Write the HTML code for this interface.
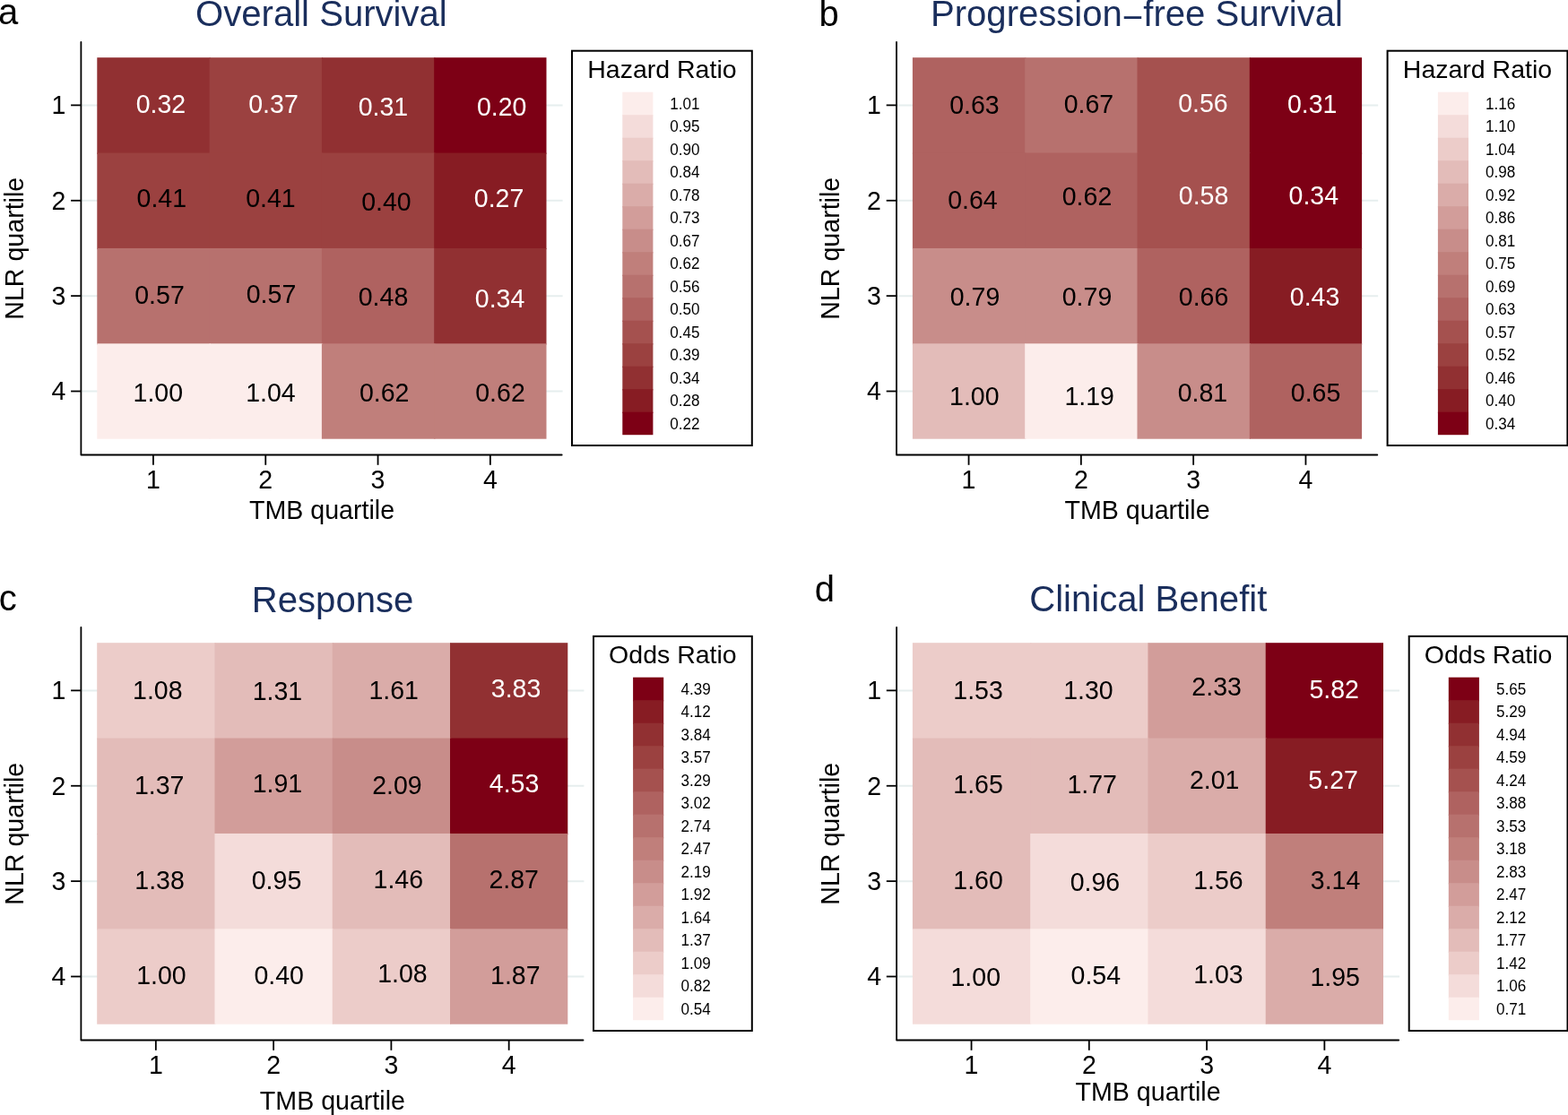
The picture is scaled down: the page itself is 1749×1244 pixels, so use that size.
<!DOCTYPE html>
<html><head><meta charset="utf-8"><title>Heatmaps</title><style>
html,body{margin:0;padding:0;background:#fff;}
svg{display:block;}
text{font-family:'Liberation Sans',Arial,Helvetica,sans-serif;}
.cl{font-size:28.5px;text-anchor:middle;}
.tl{font-size:28.5px;fill:#000;}
.at{font-size:28.6px;fill:#000;}
.ti{font-size:40.1px;fill:#1a2e5c;}
.pl{font-size:40px;fill:#000;}
.lt{font-size:28.5px;fill:#000;}
.ll{font-size:17.1px;fill:#000;}
.ax{fill:none;stroke:#000;stroke-width:1.8;stroke-linecap:round;stroke-linejoin:round;}
.tk{stroke:#000;stroke-width:1.8;}
.lb{fill:none;stroke:#000;stroke-width:2;}
</style></head>
<body><svg width="1749" height="1244" viewBox="0 0 1749 1244">
<rect width="1749" height="1244" fill="#fff"/>
<line x1="90.4" y1="117.39" x2="627.6" y2="117.39" stroke="#e6eeee" stroke-width="2"/>
<line x1="90.4" y1="223.76" x2="627.6" y2="223.76" stroke="#e6eeee" stroke-width="2"/>
<line x1="90.4" y1="330.14" x2="627.6" y2="330.14" stroke="#e6eeee" stroke-width="2"/>
<line x1="90.4" y1="436.51" x2="627.6" y2="436.51" stroke="#e6eeee" stroke-width="2"/>
<rect x="108.3" y="64.2" width="126.5" height="107.58" fill="#913032"/>
<rect x="233.6" y="64.2" width="126.5" height="107.58" fill="#9b4140"/>
<rect x="358.9" y="64.2" width="126.5" height="107.58" fill="#913032"/>
<rect x="484.2" y="64.2" width="125.3" height="107.58" fill="#7d0015"/>
<rect x="108.3" y="170.57" width="126.5" height="107.58" fill="#9b4140"/>
<rect x="233.6" y="170.57" width="126.5" height="107.58" fill="#9b4140"/>
<rect x="358.9" y="170.57" width="126.5" height="107.58" fill="#9b4140"/>
<rect x="484.2" y="170.57" width="125.3" height="107.58" fill="#871c23"/>
<rect x="108.3" y="276.95" width="126.5" height="107.58" fill="#b7716e"/>
<rect x="233.6" y="276.95" width="126.5" height="107.58" fill="#b7716e"/>
<rect x="358.9" y="276.95" width="126.5" height="107.58" fill="#af6260"/>
<rect x="484.2" y="276.95" width="125.3" height="107.58" fill="#913032"/>
<rect x="108.3" y="383.32" width="126.5" height="106.38" fill="#fcedeb"/>
<rect x="233.6" y="383.32" width="126.5" height="106.38" fill="#fcedeb"/>
<rect x="358.9" y="383.32" width="126.5" height="106.38" fill="#c07f7b"/>
<rect x="484.2" y="383.32" width="125.3" height="106.38" fill="#c07f7b"/>
<text transform="translate(179.45,125.63) scale(1,1.03)" class="cl" fill="#fff">0.32</text>
<text transform="translate(305,125.63) scale(1,1.03)" class="cl" fill="#fff">0.37</text>
<text transform="translate(427.45,128.81) scale(1,1.03)" class="cl" fill="#fff">0.31</text>
<text transform="translate(559.63,128.81) scale(1,1.03)" class="cl" fill="#fff">0.20</text>
<text transform="translate(180.27,231.07) scale(1,1.03)" class="cl" fill="#000">0.41</text>
<text transform="translate(301.86,231.07) scale(1,1.03)" class="cl" fill="#000">0.41</text>
<text transform="translate(430.91,234.87) scale(1,1.03)" class="cl" fill="#000">0.40</text>
<text transform="translate(556.55,230.87) scale(1,1.03)" class="cl" fill="#fff">0.27</text>
<text transform="translate(178,339.23) scale(1,1.03)" class="cl" fill="#000">0.57</text>
<text transform="translate(302.5,337.69) scale(1,1.03)" class="cl" fill="#000">0.57</text>
<text transform="translate(427.5,340.57) scale(1,1.03)" class="cl" fill="#000">0.48</text>
<text transform="translate(557.55,342.95) scale(1,1.03)" class="cl" fill="#fff">0.34</text>
<text transform="translate(176.33,447.77) scale(1,1.03)" class="cl" fill="#000">1.00</text>
<text transform="translate(301.97,447.77) scale(1,1.03)" class="cl" fill="#000">1.04</text>
<text transform="translate(428.64,448.41) scale(1,1.03)" class="cl" fill="#000">0.62</text>
<text transform="translate(558,448.41) scale(1,1.03)" class="cl" fill="#000">0.62</text>
<path d="M90.4 47V507.5H626.7" class="ax"/>
<line x1="79.1" y1="117.39" x2="90.4" y2="117.39" class="tk"/>
<text transform="translate(73.3,127.19) scale(1,1.03)" class="tl" text-anchor="end">1</text>
<line x1="79.1" y1="223.76" x2="90.4" y2="223.76" class="tk"/>
<text transform="translate(73.3,233.56) scale(1,1.03)" class="tl" text-anchor="end">2</text>
<line x1="79.1" y1="330.14" x2="90.4" y2="330.14" class="tk"/>
<text transform="translate(73.3,339.94) scale(1,1.03)" class="tl" text-anchor="end">3</text>
<line x1="79.1" y1="436.51" x2="90.4" y2="436.51" class="tk"/>
<text transform="translate(73.3,446.31) scale(1,1.03)" class="tl" text-anchor="end">4</text>
<line x1="170.95" y1="507.5" x2="170.95" y2="518.8" class="tk"/>
<text transform="translate(170.95,544.8) scale(1,1.03)" class="tl" text-anchor="middle">1</text>
<line x1="296.25" y1="507.5" x2="296.25" y2="518.8" class="tk"/>
<text transform="translate(296.25,544.8) scale(1,1.03)" class="tl" text-anchor="middle">2</text>
<line x1="421.55" y1="507.5" x2="421.55" y2="518.8" class="tk"/>
<text transform="translate(421.55,544.8) scale(1,1.03)" class="tl" text-anchor="middle">3</text>
<line x1="546.85" y1="507.5" x2="546.85" y2="518.8" class="tk"/>
<text transform="translate(546.85,544.8) scale(1,1.03)" class="tl" text-anchor="middle">4</text>
<text x="359" y="579.2" class="at" text-anchor="middle">TMB quartile</text>
<text transform="translate(26,277.25) rotate(-90)" class="at" text-anchor="middle">NLR quartile</text>
<text x="358.4" y="29.2" class="ti" text-anchor="middle">Overall Survival</text>
<text x="-2.1" y="27" class="pl">a</text>
<rect x="638" y="56.7" width="200.8" height="440.3" class="lb"/>
<text x="738.4" y="86.8" class="lt" text-anchor="middle">Hazard Ratio</text>
<rect x="694.3" y="102.7" width="34.1" height="26.7" fill="#fcedeb"/>
<text transform="translate(747.3,121.55) scale(1,1.03)" class="ll">1.01</text>
<rect x="694.3" y="128.2" width="34.1" height="26.7" fill="#f4dcda"/>
<text transform="translate(747.3,147.05) scale(1,1.03)" class="ll">0.95</text>
<rect x="694.3" y="153.7" width="34.1" height="26.7" fill="#ecccc9"/>
<text transform="translate(747.3,172.55) scale(1,1.03)" class="ll">0.90</text>
<rect x="694.3" y="179.2" width="34.1" height="26.7" fill="#e3bcb9"/>
<text transform="translate(747.3,198.05) scale(1,1.03)" class="ll">0.84</text>
<rect x="694.3" y="204.7" width="34.1" height="26.7" fill="#daaca9"/>
<text transform="translate(747.3,223.55) scale(1,1.03)" class="ll">0.78</text>
<rect x="694.3" y="230.2" width="34.1" height="26.7" fill="#d29d9a"/>
<text transform="translate(747.3,249.05) scale(1,1.03)" class="ll">0.73</text>
<rect x="694.3" y="255.7" width="34.1" height="26.7" fill="#c88d8a"/>
<text transform="translate(747.3,274.55) scale(1,1.03)" class="ll">0.67</text>
<rect x="694.3" y="281.2" width="34.1" height="26.7" fill="#c07f7b"/>
<text transform="translate(747.3,300.05) scale(1,1.03)" class="ll">0.62</text>
<rect x="694.3" y="306.7" width="34.1" height="26.7" fill="#b7716e"/>
<text transform="translate(747.3,325.55) scale(1,1.03)" class="ll">0.56</text>
<rect x="694.3" y="332.2" width="34.1" height="26.7" fill="#af6260"/>
<text transform="translate(747.3,351.05) scale(1,1.03)" class="ll">0.50</text>
<rect x="694.3" y="357.7" width="34.1" height="26.7" fill="#a5514f"/>
<text transform="translate(747.3,376.55) scale(1,1.03)" class="ll">0.45</text>
<rect x="694.3" y="383.2" width="34.1" height="26.7" fill="#9b4140"/>
<text transform="translate(747.3,402.05) scale(1,1.03)" class="ll">0.39</text>
<rect x="694.3" y="408.7" width="34.1" height="26.7" fill="#913032"/>
<text transform="translate(747.3,427.55) scale(1,1.03)" class="ll">0.34</text>
<rect x="694.3" y="434.2" width="34.1" height="26.7" fill="#871c23"/>
<text transform="translate(747.3,453.05) scale(1,1.03)" class="ll">0.28</text>
<rect x="694.3" y="459.7" width="34.1" height="25.5" fill="#7d0015"/>
<text transform="translate(747.3,478.55) scale(1,1.03)" class="ll">0.22</text>
<line x1="1000" y1="117.39" x2="1537.2" y2="117.39" stroke="#e6eeee" stroke-width="2"/>
<line x1="1000" y1="223.76" x2="1537.2" y2="223.76" stroke="#e6eeee" stroke-width="2"/>
<line x1="1000" y1="330.14" x2="1537.2" y2="330.14" stroke="#e6eeee" stroke-width="2"/>
<line x1="1000" y1="436.51" x2="1537.2" y2="436.51" stroke="#e6eeee" stroke-width="2"/>
<rect x="1017.9" y="64.2" width="126.5" height="107.58" fill="#af6260"/>
<rect x="1143.2" y="64.2" width="126.5" height="107.58" fill="#b7716e"/>
<rect x="1268.5" y="64.2" width="126.5" height="107.58" fill="#a5514f"/>
<rect x="1393.8" y="64.2" width="125.3" height="107.58" fill="#7d0015"/>
<rect x="1017.9" y="170.57" width="126.5" height="107.58" fill="#af6260"/>
<rect x="1143.2" y="170.57" width="126.5" height="107.58" fill="#af6260"/>
<rect x="1268.5" y="170.57" width="126.5" height="107.58" fill="#a5514f"/>
<rect x="1393.8" y="170.57" width="125.3" height="107.58" fill="#7d0015"/>
<rect x="1017.9" y="276.95" width="126.5" height="107.58" fill="#c88d8a"/>
<rect x="1143.2" y="276.95" width="126.5" height="107.58" fill="#c88d8a"/>
<rect x="1268.5" y="276.95" width="126.5" height="107.58" fill="#af6260"/>
<rect x="1393.8" y="276.95" width="125.3" height="107.58" fill="#871c23"/>
<rect x="1017.9" y="383.32" width="126.5" height="106.38" fill="#e3bcb9"/>
<rect x="1143.2" y="383.32" width="126.5" height="106.38" fill="#fcedeb"/>
<rect x="1268.5" y="383.32" width="126.5" height="106.38" fill="#c88d8a"/>
<rect x="1393.8" y="383.32" width="125.3" height="106.38" fill="#af6260"/>
<text transform="translate(1086.86,126.87) scale(1,1.03)" class="cl" fill="#000">0.63</text>
<text transform="translate(1214.41,126.23) scale(1,1.03)" class="cl" fill="#000">0.67</text>
<text transform="translate(1341.86,124.69) scale(1,1.03)" class="cl" fill="#fff">0.56</text>
<text transform="translate(1463.73,126.23) scale(1,1.03)" class="cl" fill="#fff">0.31</text>
<text transform="translate(1084.92,232.99) scale(1,1.03)" class="cl" fill="#000">0.64</text>
<text transform="translate(1212.5,229.23) scale(1,1.03)" class="cl" fill="#000">0.62</text>
<text transform="translate(1342.55,227.55) scale(1,1.03)" class="cl" fill="#fff">0.58</text>
<text transform="translate(1465.27,227.55) scale(1,1.03)" class="cl" fill="#fff">0.34</text>
<text transform="translate(1087.5,341.41) scale(1,1.03)" class="cl" fill="#000">0.79</text>
<text transform="translate(1212.5,341.41) scale(1,1.03)" class="cl" fill="#000">0.79</text>
<text transform="translate(1342.55,341.41) scale(1,1.03)" class="cl" fill="#000">0.66</text>
<text transform="translate(1466.55,340.77) scale(1,1.03)" class="cl" fill="#fff">0.43</text>
<text transform="translate(1086.83,451.53) scale(1,1.03)" class="cl" fill="#000">1.00</text>
<text transform="translate(1215.14,452.37) scale(1,1.03)" class="cl" fill="#000">1.19</text>
<text transform="translate(1341.41,447.77) scale(1,1.03)" class="cl" fill="#000">0.81</text>
<text transform="translate(1467.55,447.77) scale(1,1.03)" class="cl" fill="#000">0.65</text>
<path d="M1000 47V507.5H1536.3" class="ax"/>
<line x1="988.7" y1="117.39" x2="1000" y2="117.39" class="tk"/>
<text transform="translate(982.9,127.19) scale(1,1.03)" class="tl" text-anchor="end">1</text>
<line x1="988.7" y1="223.76" x2="1000" y2="223.76" class="tk"/>
<text transform="translate(982.9,233.56) scale(1,1.03)" class="tl" text-anchor="end">2</text>
<line x1="988.7" y1="330.14" x2="1000" y2="330.14" class="tk"/>
<text transform="translate(982.9,339.94) scale(1,1.03)" class="tl" text-anchor="end">3</text>
<line x1="988.7" y1="436.51" x2="1000" y2="436.51" class="tk"/>
<text transform="translate(982.9,446.31) scale(1,1.03)" class="tl" text-anchor="end">4</text>
<line x1="1080.55" y1="507.5" x2="1080.55" y2="518.8" class="tk"/>
<text transform="translate(1080.55,544.8) scale(1,1.03)" class="tl" text-anchor="middle">1</text>
<line x1="1205.85" y1="507.5" x2="1205.85" y2="518.8" class="tk"/>
<text transform="translate(1205.85,544.8) scale(1,1.03)" class="tl" text-anchor="middle">2</text>
<line x1="1331.15" y1="507.5" x2="1331.15" y2="518.8" class="tk"/>
<text transform="translate(1331.15,544.8) scale(1,1.03)" class="tl" text-anchor="middle">3</text>
<line x1="1456.45" y1="507.5" x2="1456.45" y2="518.8" class="tk"/>
<text transform="translate(1456.45,544.8) scale(1,1.03)" class="tl" text-anchor="middle">4</text>
<text x="1268.6" y="579.2" class="at" text-anchor="middle">TMB quartile</text>
<text transform="translate(935.6,277.25) rotate(-90)" class="at" text-anchor="middle">NLR quartile</text>
<text x="1268" y="29.2" class="ti" text-anchor="middle">Progression<tspan dy="3.7">−</tspan><tspan dy="-3.7">free Survival</tspan></text>
<text x="913.6" y="28.6" class="pl">b</text>
<rect x="1547.6" y="56.7" width="200.8" height="440.3" class="lb"/>
<text x="1648" y="86.8" class="lt" text-anchor="middle">Hazard Ratio</text>
<rect x="1603.9" y="102.7" width="34.1" height="26.7" fill="#fcedeb"/>
<text transform="translate(1656.9,121.55) scale(1,1.03)" class="ll">1.16</text>
<rect x="1603.9" y="128.2" width="34.1" height="26.7" fill="#f4dcda"/>
<text transform="translate(1656.9,147.05) scale(1,1.03)" class="ll">1.10</text>
<rect x="1603.9" y="153.7" width="34.1" height="26.7" fill="#ecccc9"/>
<text transform="translate(1656.9,172.55) scale(1,1.03)" class="ll">1.04</text>
<rect x="1603.9" y="179.2" width="34.1" height="26.7" fill="#e3bcb9"/>
<text transform="translate(1656.9,198.05) scale(1,1.03)" class="ll">0.98</text>
<rect x="1603.9" y="204.7" width="34.1" height="26.7" fill="#daaca9"/>
<text transform="translate(1656.9,223.55) scale(1,1.03)" class="ll">0.92</text>
<rect x="1603.9" y="230.2" width="34.1" height="26.7" fill="#d29d9a"/>
<text transform="translate(1656.9,249.05) scale(1,1.03)" class="ll">0.86</text>
<rect x="1603.9" y="255.7" width="34.1" height="26.7" fill="#c88d8a"/>
<text transform="translate(1656.9,274.55) scale(1,1.03)" class="ll">0.81</text>
<rect x="1603.9" y="281.2" width="34.1" height="26.7" fill="#c07f7b"/>
<text transform="translate(1656.9,300.05) scale(1,1.03)" class="ll">0.75</text>
<rect x="1603.9" y="306.7" width="34.1" height="26.7" fill="#b7716e"/>
<text transform="translate(1656.9,325.55) scale(1,1.03)" class="ll">0.69</text>
<rect x="1603.9" y="332.2" width="34.1" height="26.7" fill="#af6260"/>
<text transform="translate(1656.9,351.05) scale(1,1.03)" class="ll">0.63</text>
<rect x="1603.9" y="357.7" width="34.1" height="26.7" fill="#a5514f"/>
<text transform="translate(1656.9,376.55) scale(1,1.03)" class="ll">0.57</text>
<rect x="1603.9" y="383.2" width="34.1" height="26.7" fill="#9b4140"/>
<text transform="translate(1656.9,402.05) scale(1,1.03)" class="ll">0.52</text>
<rect x="1603.9" y="408.7" width="34.1" height="26.7" fill="#913032"/>
<text transform="translate(1656.9,427.55) scale(1,1.03)" class="ll">0.46</text>
<rect x="1603.9" y="434.2" width="34.1" height="26.7" fill="#871c23"/>
<text transform="translate(1656.9,453.05) scale(1,1.03)" class="ll">0.40</text>
<rect x="1603.9" y="459.7" width="34.1" height="25.5" fill="#7d0015"/>
<text transform="translate(1656.9,478.55) scale(1,1.03)" class="ll">0.34</text>
<line x1="90.4" y1="770.39" x2="651.4" y2="770.39" stroke="#e6eeee" stroke-width="2"/>
<line x1="90.4" y1="876.76" x2="651.4" y2="876.76" stroke="#e6eeee" stroke-width="2"/>
<line x1="90.4" y1="983.14" x2="651.4" y2="983.14" stroke="#e6eeee" stroke-width="2"/>
<line x1="90.4" y1="1089.51" x2="651.4" y2="1089.51" stroke="#e6eeee" stroke-width="2"/>
<rect x="108.2" y="717.2" width="132.47" height="107.58" fill="#ecccc9"/>
<rect x="239.47" y="717.2" width="132.47" height="107.58" fill="#e3bcb9"/>
<rect x="370.75" y="717.2" width="132.47" height="107.58" fill="#daaca9"/>
<rect x="502.02" y="717.2" width="131.27" height="107.58" fill="#913032"/>
<rect x="108.2" y="823.58" width="132.47" height="107.58" fill="#e3bcb9"/>
<rect x="239.47" y="823.58" width="132.47" height="107.58" fill="#d29d9a"/>
<rect x="370.75" y="823.58" width="132.47" height="107.58" fill="#c88d8a"/>
<rect x="502.02" y="823.58" width="131.27" height="107.58" fill="#7d0015"/>
<rect x="108.2" y="929.95" width="132.47" height="107.58" fill="#e3bcb9"/>
<rect x="239.47" y="929.95" width="132.47" height="107.58" fill="#f4dcda"/>
<rect x="370.75" y="929.95" width="132.47" height="107.58" fill="#e3bcb9"/>
<rect x="502.02" y="929.95" width="131.27" height="107.58" fill="#b7716e"/>
<rect x="108.2" y="1036.33" width="132.47" height="106.38" fill="#ecccc9"/>
<rect x="239.47" y="1036.33" width="132.47" height="106.38" fill="#fcedeb"/>
<rect x="370.75" y="1036.33" width="132.47" height="106.38" fill="#ecccc9"/>
<rect x="502.02" y="1036.33" width="131.27" height="106.38" fill="#d29d9a"/>
<text transform="translate(175.78,779.65) scale(1,1.03)" class="cl" fill="#000">1.08</text>
<text transform="translate(309.46,781.09) scale(1,1.03)" class="cl" fill="#000">1.31</text>
<text transform="translate(439.1,779.61) scale(1,1.03)" class="cl" fill="#000">1.61</text>
<text transform="translate(575.55,777.79) scale(1,1.03)" class="cl" fill="#fff">3.83</text>
<text transform="translate(177.6,886.33) scale(1,1.03)" class="cl" fill="#000">1.37</text>
<text transform="translate(309.46,883.59) scale(1,1.03)" class="cl" fill="#000">1.91</text>
<text transform="translate(442.91,886.43) scale(1,1.03)" class="cl" fill="#000">2.09</text>
<text transform="translate(573.54,883.91) scale(1,1.03)" class="cl" fill="#fff">4.53</text>
<text transform="translate(178.05,991.93) scale(1,1.03)" class="cl" fill="#000">1.38</text>
<text transform="translate(308.5,991.93) scale(1,1.03)" class="cl" fill="#000">0.95</text>
<text transform="translate(444.33,990.59) scale(1,1.03)" class="cl" fill="#000">1.46</text>
<text transform="translate(573.14,990.59) scale(1,1.03)" class="cl" fill="#000">2.87</text>
<text transform="translate(179.96,1097.61) scale(1,1.03)" class="cl" fill="#000">1.00</text>
<text transform="translate(311.18,1097.93) scale(1,1.03)" class="cl" fill="#000">0.40</text>
<text transform="translate(448.87,1095.79) scale(1,1.03)" class="cl" fill="#000">1.08</text>
<text transform="translate(574.83,1097.93) scale(1,1.03)" class="cl" fill="#000">1.87</text>
<path d="M90.4 700V1160.5H650.5" class="ax"/>
<line x1="79.1" y1="770.39" x2="90.4" y2="770.39" class="tk"/>
<text transform="translate(73.3,780.19) scale(1,1.03)" class="tl" text-anchor="end">1</text>
<line x1="79.1" y1="876.76" x2="90.4" y2="876.76" class="tk"/>
<text transform="translate(73.3,886.56) scale(1,1.03)" class="tl" text-anchor="end">2</text>
<line x1="79.1" y1="983.14" x2="90.4" y2="983.14" class="tk"/>
<text transform="translate(73.3,992.94) scale(1,1.03)" class="tl" text-anchor="end">3</text>
<line x1="79.1" y1="1089.51" x2="90.4" y2="1089.51" class="tk"/>
<text transform="translate(73.3,1099.31) scale(1,1.03)" class="tl" text-anchor="end">4</text>
<line x1="173.84" y1="1160.5" x2="173.84" y2="1171.8" class="tk"/>
<text transform="translate(173.84,1197.8) scale(1,1.03)" class="tl" text-anchor="middle">1</text>
<line x1="305.11" y1="1160.5" x2="305.11" y2="1171.8" class="tk"/>
<text transform="translate(305.11,1197.8) scale(1,1.03)" class="tl" text-anchor="middle">2</text>
<line x1="436.39" y1="1160.5" x2="436.39" y2="1171.8" class="tk"/>
<text transform="translate(436.39,1197.8) scale(1,1.03)" class="tl" text-anchor="middle">3</text>
<line x1="567.66" y1="1160.5" x2="567.66" y2="1171.8" class="tk"/>
<text transform="translate(567.66,1197.8) scale(1,1.03)" class="tl" text-anchor="middle">4</text>
<text x="370.9" y="1237.5" class="at" text-anchor="middle">TMB quartile</text>
<text transform="translate(26,930.25) rotate(-90)" class="at" text-anchor="middle">NLR quartile</text>
<text x="371.1" y="682.9" class="ti" text-anchor="middle">Response</text>
<text x="-1.3" y="681.1" class="pl">c</text>
<rect x="662" y="709.9" width="176.8" height="440.1" class="lb"/>
<text x="750.4" y="739.8" class="lt" text-anchor="middle">Odds Ratio</text>
<rect x="706.1" y="755.7" width="34.1" height="26.7" fill="#7d0015"/>
<text transform="translate(759.4,774.55) scale(1,1.03)" class="ll">4.39</text>
<rect x="706.1" y="781.2" width="34.1" height="26.7" fill="#871c23"/>
<text transform="translate(759.4,800.05) scale(1,1.03)" class="ll">4.12</text>
<rect x="706.1" y="806.7" width="34.1" height="26.7" fill="#913032"/>
<text transform="translate(759.4,825.55) scale(1,1.03)" class="ll">3.84</text>
<rect x="706.1" y="832.2" width="34.1" height="26.7" fill="#9b4140"/>
<text transform="translate(759.4,851.05) scale(1,1.03)" class="ll">3.57</text>
<rect x="706.1" y="857.7" width="34.1" height="26.7" fill="#a5514f"/>
<text transform="translate(759.4,876.55) scale(1,1.03)" class="ll">3.29</text>
<rect x="706.1" y="883.2" width="34.1" height="26.7" fill="#af6260"/>
<text transform="translate(759.4,902.05) scale(1,1.03)" class="ll">3.02</text>
<rect x="706.1" y="908.7" width="34.1" height="26.7" fill="#b7716e"/>
<text transform="translate(759.4,927.55) scale(1,1.03)" class="ll">2.74</text>
<rect x="706.1" y="934.2" width="34.1" height="26.7" fill="#c07f7b"/>
<text transform="translate(759.4,953.05) scale(1,1.03)" class="ll">2.47</text>
<rect x="706.1" y="959.7" width="34.1" height="26.7" fill="#c88d8a"/>
<text transform="translate(759.4,978.55) scale(1,1.03)" class="ll">2.19</text>
<rect x="706.1" y="985.2" width="34.1" height="26.7" fill="#d29d9a"/>
<text transform="translate(759.4,1004.05) scale(1,1.03)" class="ll">1.92</text>
<rect x="706.1" y="1010.7" width="34.1" height="26.7" fill="#daaca9"/>
<text transform="translate(759.4,1029.55) scale(1,1.03)" class="ll">1.64</text>
<rect x="706.1" y="1036.2" width="34.1" height="26.7" fill="#e3bcb9"/>
<text transform="translate(759.4,1055.05) scale(1,1.03)" class="ll">1.37</text>
<rect x="706.1" y="1061.7" width="34.1" height="26.7" fill="#ecccc9"/>
<text transform="translate(759.4,1080.55) scale(1,1.03)" class="ll">1.09</text>
<rect x="706.1" y="1087.2" width="34.1" height="26.7" fill="#f4dcda"/>
<text transform="translate(759.4,1106.05) scale(1,1.03)" class="ll">0.82</text>
<rect x="706.1" y="1112.7" width="34.1" height="25.5" fill="#fcedeb"/>
<text transform="translate(759.4,1131.55) scale(1,1.03)" class="ll">0.54</text>
<line x1="1000.1" y1="770.39" x2="1561.1" y2="770.39" stroke="#e6eeee" stroke-width="2"/>
<line x1="1000.1" y1="876.76" x2="1561.1" y2="876.76" stroke="#e6eeee" stroke-width="2"/>
<line x1="1000.1" y1="983.14" x2="1561.1" y2="983.14" stroke="#e6eeee" stroke-width="2"/>
<line x1="1000.1" y1="1089.51" x2="1561.1" y2="1089.51" stroke="#e6eeee" stroke-width="2"/>
<rect x="1017.9" y="717.2" width="132.47" height="107.58" fill="#ecccc9"/>
<rect x="1149.18" y="717.2" width="132.47" height="107.58" fill="#ecccc9"/>
<rect x="1280.45" y="717.2" width="132.47" height="107.58" fill="#d29d9a"/>
<rect x="1411.72" y="717.2" width="131.27" height="107.58" fill="#7d0015"/>
<rect x="1017.9" y="823.58" width="132.47" height="107.58" fill="#e3bcb9"/>
<rect x="1149.18" y="823.58" width="132.47" height="107.58" fill="#e3bcb9"/>
<rect x="1280.45" y="823.58" width="132.47" height="107.58" fill="#daaca9"/>
<rect x="1411.72" y="823.58" width="131.27" height="107.58" fill="#871c23"/>
<rect x="1017.9" y="929.95" width="132.47" height="107.58" fill="#e3bcb9"/>
<rect x="1149.18" y="929.95" width="132.47" height="107.58" fill="#f4dcda"/>
<rect x="1280.45" y="929.95" width="132.47" height="107.58" fill="#ecccc9"/>
<rect x="1411.72" y="929.95" width="131.27" height="107.58" fill="#c07f7b"/>
<rect x="1017.9" y="1036.33" width="132.47" height="106.38" fill="#f4dcda"/>
<rect x="1149.18" y="1036.33" width="132.47" height="106.38" fill="#fcedeb"/>
<rect x="1280.45" y="1036.33" width="132.47" height="106.38" fill="#f4dcda"/>
<rect x="1411.72" y="1036.33" width="131.27" height="106.38" fill="#daaca9"/>
<text transform="translate(1091.01,779.61) scale(1,1.03)" class="cl" fill="#000">1.53</text>
<text transform="translate(1213.92,779.61) scale(1,1.03)" class="cl" fill="#000">1.30</text>
<text transform="translate(1357.09,775.63) scale(1,1.03)" class="cl" fill="#000">2.33</text>
<text transform="translate(1488.23,778.53) scale(1,1.03)" class="cl" fill="#fff">5.82</text>
<text transform="translate(1091.01,885.25) scale(1,1.03)" class="cl" fill="#000">1.65</text>
<text transform="translate(1218.15,885.25) scale(1,1.03)" class="cl" fill="#000">1.77</text>
<text transform="translate(1354.68,880.15) scale(1,1.03)" class="cl" fill="#000">2.01</text>
<text transform="translate(1487.09,880.15) scale(1,1.03)" class="cl" fill="#fff">5.27</text>
<text transform="translate(1091.01,992.13) scale(1,1.03)" class="cl" fill="#000">1.60</text>
<text transform="translate(1221.45,993.85) scale(1,1.03)" class="cl" fill="#000">0.96</text>
<text transform="translate(1358.87,992.13) scale(1,1.03)" class="cl" fill="#000">1.56</text>
<text transform="translate(1489.55,992.13) scale(1,1.03)" class="cl" fill="#000">3.14</text>
<text transform="translate(1088.24,1100.07) scale(1,1.03)" class="cl" fill="#000">1.00</text>
<text transform="translate(1222.28,1097.93) scale(1,1.03)" class="cl" fill="#000">0.54</text>
<text transform="translate(1358.87,1096.97) scale(1,1.03)" class="cl" fill="#000">1.03</text>
<text transform="translate(1489.15,1100.07) scale(1,1.03)" class="cl" fill="#000">1.95</text>
<path d="M1000.1 700V1160.5H1560.2" class="ax"/>
<line x1="988.8" y1="770.39" x2="1000.1" y2="770.39" class="tk"/>
<text transform="translate(983,780.19) scale(1,1.03)" class="tl" text-anchor="end">1</text>
<line x1="988.8" y1="876.76" x2="1000.1" y2="876.76" class="tk"/>
<text transform="translate(983,886.56) scale(1,1.03)" class="tl" text-anchor="end">2</text>
<line x1="988.8" y1="983.14" x2="1000.1" y2="983.14" class="tk"/>
<text transform="translate(983,992.94) scale(1,1.03)" class="tl" text-anchor="end">3</text>
<line x1="988.8" y1="1089.51" x2="1000.1" y2="1089.51" class="tk"/>
<text transform="translate(983,1099.31) scale(1,1.03)" class="tl" text-anchor="end">4</text>
<line x1="1083.54" y1="1160.5" x2="1083.54" y2="1171.8" class="tk"/>
<text transform="translate(1083.54,1197.8) scale(1,1.03)" class="tl" text-anchor="middle">1</text>
<line x1="1214.81" y1="1160.5" x2="1214.81" y2="1171.8" class="tk"/>
<text transform="translate(1214.81,1197.8) scale(1,1.03)" class="tl" text-anchor="middle">2</text>
<line x1="1346.09" y1="1160.5" x2="1346.09" y2="1171.8" class="tk"/>
<text transform="translate(1346.09,1197.8) scale(1,1.03)" class="tl" text-anchor="middle">3</text>
<line x1="1477.36" y1="1160.5" x2="1477.36" y2="1171.8" class="tk"/>
<text transform="translate(1477.36,1197.8) scale(1,1.03)" class="tl" text-anchor="middle">4</text>
<text x="1280.6" y="1227.5" class="at" text-anchor="middle">TMB quartile</text>
<text transform="translate(935.7,930.25) rotate(-90)" class="at" text-anchor="middle">NLR quartile</text>
<text x="1280.8" y="681.8" class="ti" text-anchor="middle">Clinical Benefit</text>
<text x="908.7" y="670.6" class="pl">d</text>
<rect x="1571.7" y="709.9" width="176.8" height="440.1" class="lb"/>
<text x="1660.1" y="739.8" class="lt" text-anchor="middle">Odds Ratio</text>
<rect x="1615.8" y="755.7" width="34.1" height="26.7" fill="#7d0015"/>
<text transform="translate(1669.1,774.55) scale(1,1.03)" class="ll">5.65</text>
<rect x="1615.8" y="781.2" width="34.1" height="26.7" fill="#871c23"/>
<text transform="translate(1669.1,800.05) scale(1,1.03)" class="ll">5.29</text>
<rect x="1615.8" y="806.7" width="34.1" height="26.7" fill="#913032"/>
<text transform="translate(1669.1,825.55) scale(1,1.03)" class="ll">4.94</text>
<rect x="1615.8" y="832.2" width="34.1" height="26.7" fill="#9b4140"/>
<text transform="translate(1669.1,851.05) scale(1,1.03)" class="ll">4.59</text>
<rect x="1615.8" y="857.7" width="34.1" height="26.7" fill="#a5514f"/>
<text transform="translate(1669.1,876.55) scale(1,1.03)" class="ll">4.24</text>
<rect x="1615.8" y="883.2" width="34.1" height="26.7" fill="#af6260"/>
<text transform="translate(1669.1,902.05) scale(1,1.03)" class="ll">3.88</text>
<rect x="1615.8" y="908.7" width="34.1" height="26.7" fill="#b7716e"/>
<text transform="translate(1669.1,927.55) scale(1,1.03)" class="ll">3.53</text>
<rect x="1615.8" y="934.2" width="34.1" height="26.7" fill="#c07f7b"/>
<text transform="translate(1669.1,953.05) scale(1,1.03)" class="ll">3.18</text>
<rect x="1615.8" y="959.7" width="34.1" height="26.7" fill="#c88d8a"/>
<text transform="translate(1669.1,978.55) scale(1,1.03)" class="ll">2.83</text>
<rect x="1615.8" y="985.2" width="34.1" height="26.7" fill="#d29d9a"/>
<text transform="translate(1669.1,1004.05) scale(1,1.03)" class="ll">2.47</text>
<rect x="1615.8" y="1010.7" width="34.1" height="26.7" fill="#daaca9"/>
<text transform="translate(1669.1,1029.55) scale(1,1.03)" class="ll">2.12</text>
<rect x="1615.8" y="1036.2" width="34.1" height="26.7" fill="#e3bcb9"/>
<text transform="translate(1669.1,1055.05) scale(1,1.03)" class="ll">1.77</text>
<rect x="1615.8" y="1061.7" width="34.1" height="26.7" fill="#ecccc9"/>
<text transform="translate(1669.1,1080.55) scale(1,1.03)" class="ll">1.42</text>
<rect x="1615.8" y="1087.2" width="34.1" height="26.7" fill="#f4dcda"/>
<text transform="translate(1669.1,1106.05) scale(1,1.03)" class="ll">1.06</text>
<rect x="1615.8" y="1112.7" width="34.1" height="25.5" fill="#fcedeb"/>
<text transform="translate(1669.1,1131.55) scale(1,1.03)" class="ll">0.71</text>
</svg></body></html>
